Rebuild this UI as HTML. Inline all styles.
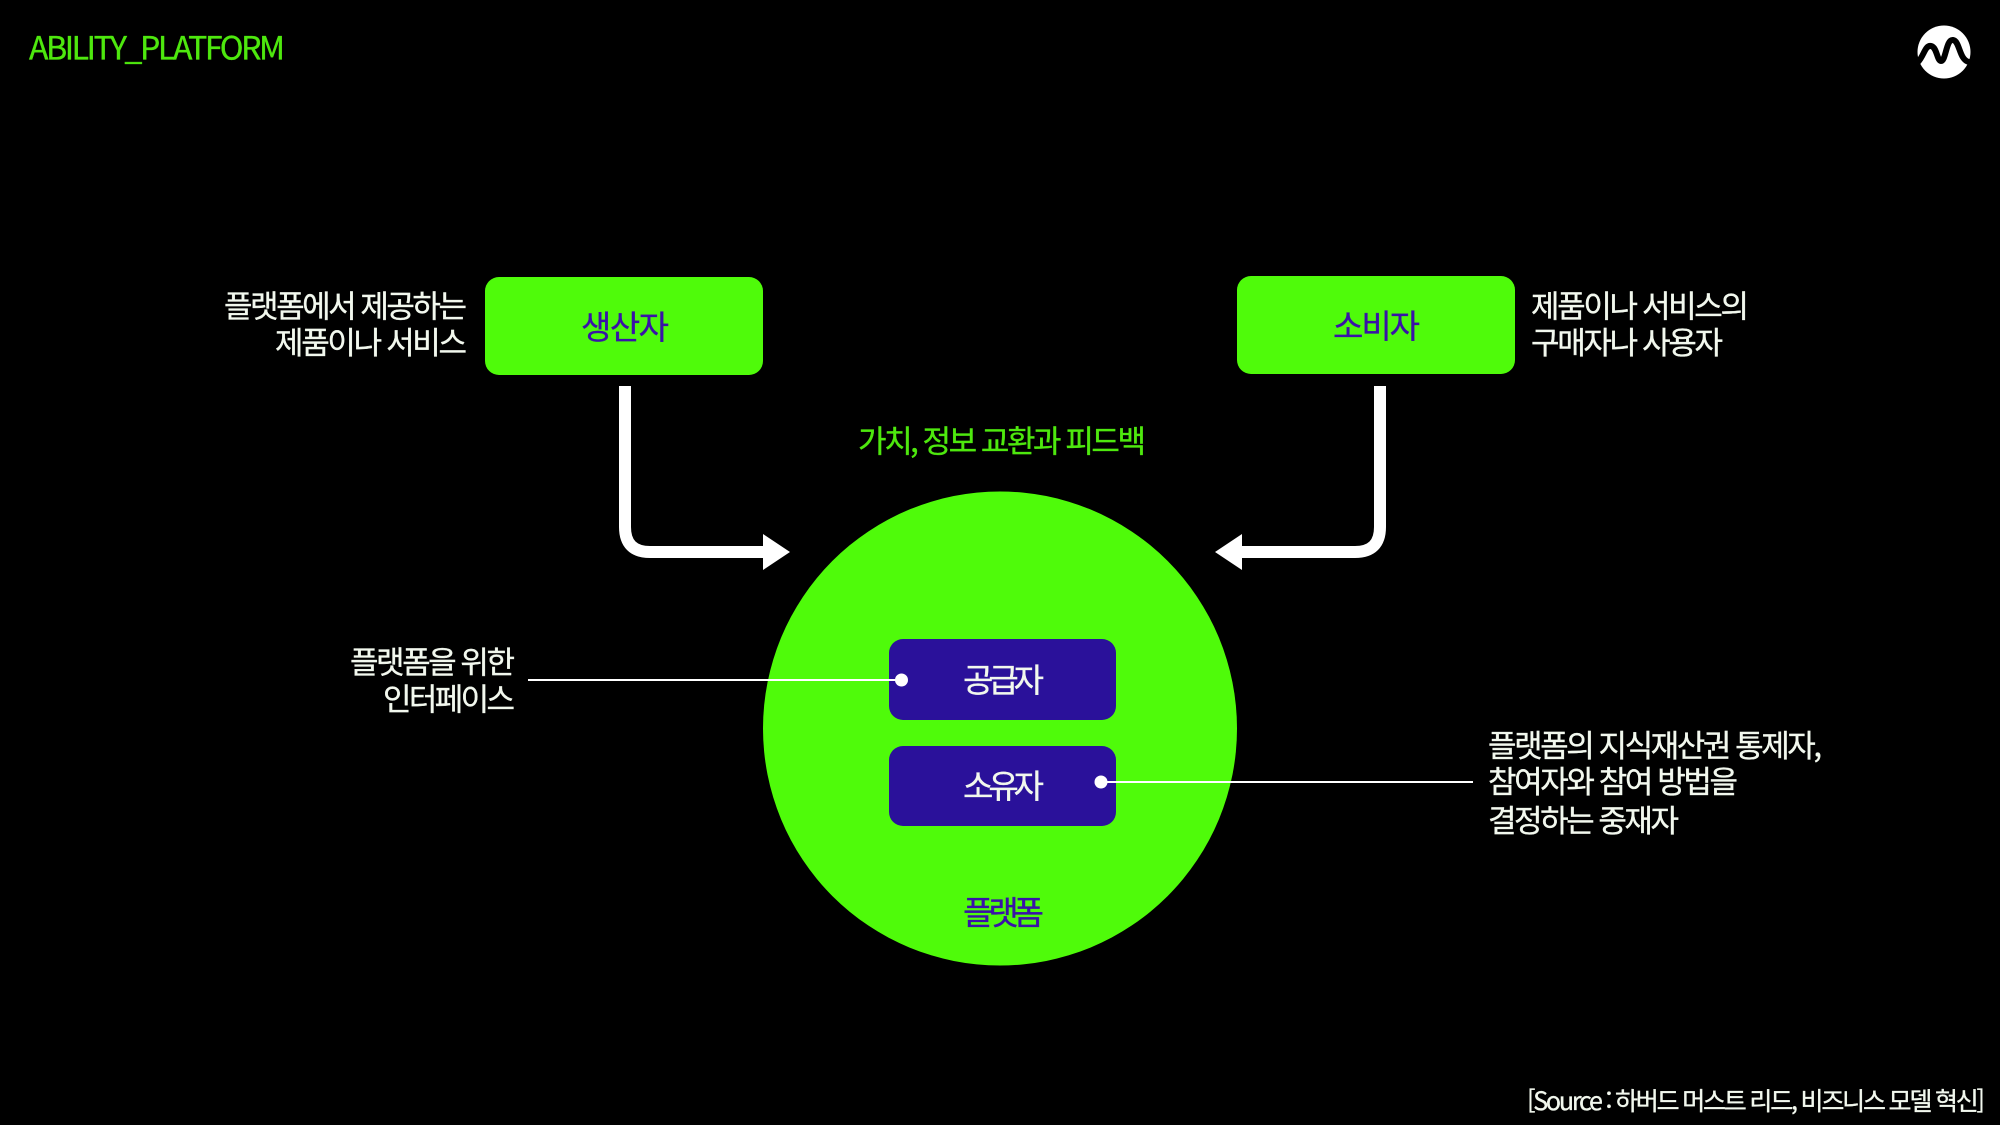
<!DOCTYPE html>
<html lang="ko">
<head>
<meta charset="utf-8">
<title>ABILITY_PLATFORM</title>
<style>
html,body{margin:0;padding:0;background:#000;width:2000px;height:1125px;overflow:hidden}
svg{display:block}
text{font-family:"Noto Sans CJK KR","Liberation Sans",sans-serif;font-size:31px;fill:#f2f8ee;stroke:#f2f8ee;stroke-width:.35px}
text.g{fill:#4ee80e;stroke:#4ee80e}
text.b{fill:#3a12a8;stroke:#3a12a8}
text.m{font-size:33px}
</style>
</head>
<body>
<svg width="2000" height="1125" viewBox="0 0 2000 1125" xmlns="http://www.w3.org/2000/svg">
<rect width="2000" height="1125" fill="#000"/>
<text x="29" y="59.5" class="g" style="font-size:32px" textLength="256">ABILITY_PLATFORM</text>
<circle cx="1944" cy="52" r="26.5" fill="#fff"/>
<path d="M1918 62 C1924 56 1925 45 1931 46 C1937 47 1937 61 1941 61 C1946 61 1946 39 1953 40 C1960 41 1959 60 1969 62" fill="none" stroke="#000" stroke-width="6"/>

<rect x="485" y="277" width="278" height="98" rx="14" fill="#4ffb0a"/>
<rect x="1237" y="276" width="278" height="98" rx="14" fill="#4ffb0a"/>
<text x="581" y="339" class="b m" textLength="88">생산자</text>
<text x="1333" y="338" class="b m" textLength="87">소비자</text>

<text x="224" y="317.5" textLength="243">플랫폼에서 제공하는</text>
<text x="275" y="354" textLength="192">제품이나 서비스</text>
<text x="1531" y="317.5" textLength="218">제품이나 서비스의</text>
<text x="1531" y="354" textLength="192">구매자나 사용자</text>

<path d="M625 386 V527 Q625 552 650 552 H765" fill="none" stroke="#fff" stroke-width="12"/>
<polygon points="763,534 790,552 763,570" fill="#fff"/>
<path d="M1380 386 V527 Q1380 552 1355 552 H1240" fill="none" stroke="#fff" stroke-width="12"/>
<polygon points="1242,534 1215,552 1242,570" fill="#fff"/>

<text x="858" y="452.5" class="g" textLength="288">가치, 정보 교환과 피드백</text>

<circle cx="1000" cy="728.5" r="237" fill="#4ffb0a"/>
<rect x="889" y="639" width="227" height="81" rx="14" fill="#2a119a"/>
<rect x="889" y="746" width="227" height="80" rx="14" fill="#2a119a"/>
<text x="963" y="692" class="m" textLength="81">공급자</text>
<text x="963" y="798" class="m" textLength="81">소유자</text>
<text x="963" y="924.5" class="b m" textLength="81">플랫폼</text>

<line x1="528" y1="680" x2="902" y2="680" stroke="#fff" stroke-width="2"/>
<circle cx="901.5" cy="680" r="6.5" fill="#fff"/>
<line x1="1101" y1="782" x2="1473" y2="782" stroke="#fff" stroke-width="2"/>
<circle cx="1101" cy="782" r="6.5" fill="#fff"/>

<text x="350" y="673.5" textLength="165">플랫폼을 위한</text>
<text x="383" y="710.5" textLength="132">인터페이스</text>
<text x="1488" y="757" textLength="334">플랫폼의 지식재산권 통제자,</text>
<text x="1488" y="793" textLength="250">참여자와 참여 방법을</text>
<text x="1488" y="832" textLength="191">결정하는 중재자</text>

<text x="1527" y="1110" style="font-size:25px" textLength="458">[Source : 하버드 머스트 리드, 비즈니스 모델 혁신]</text>
</svg>
</body>
</html>
